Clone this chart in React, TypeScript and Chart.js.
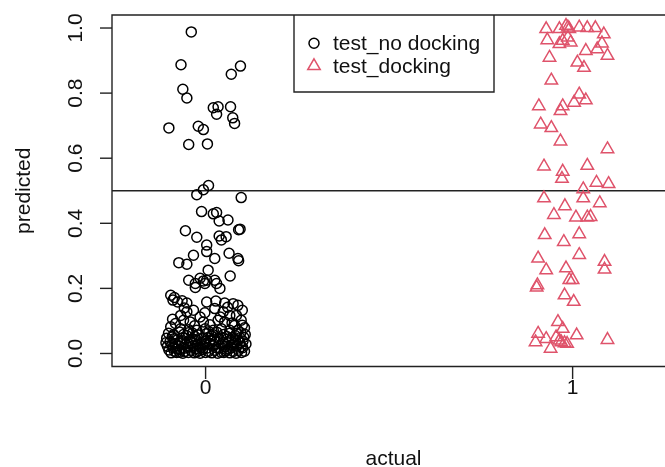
import React, { useEffect, useRef } from 'react';
import { Chart, registerables } from 'chart.js';

Chart.register(...registerables);

// ---- data ----
const seriesNames = ['test_no docking', 'test_docking'];
const xTicks = [0, 1];
const xTickLabels = ['0', '1'];
const yTicks = [0, 0.2, 0.4, 0.6, 0.8, 1.0];
const yTickLabels = ['0.0', '0.2', '0.4', '0.6', '0.8', '1.0'];
const threshold = 0.5;
const xTitle = 'actual';
const yTitle = 'predicted';

// [jittered actual, predicted]
const noDocking: [number, number][] = [
  [-0.039, 0.988], [-0.067, 0.887], [0.095, 0.883], [0.07, 0.858], [-0.062, 0.812], [-0.051, 0.785],
  [0.021, 0.755], [0.034, 0.758], [0.03, 0.735], [0.068, 0.758], [0.074, 0.724], [0.079, 0.707],
  [-0.1, 0.693], [-0.02, 0.698], [-0.006, 0.688],
  [-0.046, 0.642], [0.005, 0.644], [0.008, 0.516], [-0.006, 0.503], [-0.024, 0.488], [0.097, 0.479],
  [-0.011, 0.436], [0.021, 0.429], [0.03, 0.433], [0.037, 0.407], [0.061, 0.41], [-0.055, 0.377],
  [-0.024, 0.357], [0.037, 0.361], [0.056, 0.359], [0.09, 0.38], [0.094, 0.382], [0.043, 0.349],
  [0.003, 0.333], [0.003, 0.313], [0.025, 0.292], [-0.033, 0.302], [-0.073, 0.279], [-0.051, 0.274],
  [0.064, 0.308], [0.088, 0.292], [0.09, 0.285], [0.007, 0.256], [-0.046, 0.225], [-0.028, 0.215],
  [-0.015, 0.231], [-0.006, 0.223], [0.003, 0.225], [-0.002, 0.215], [0.025, 0.225], [0.03, 0.215],
  [0.067, 0.238], [0.039, 0.2], [-0.028, 0.203],
  [-0.095, 0.179], [-0.085, 0.172], [-0.089, 0.164], [-0.076, 0.158], [-0.064, 0.162], [-0.051, 0.155],
  [0.003, 0.158], [0.028, 0.161], [0.052, 0.155], [0.075, 0.153], [0.088, 0.148], [0.1, 0.133],
  [-0.033, 0.133], [-0.051, 0.128], [-0.068, 0.117], [0.025, 0.138], [0.048, 0.128], [0.066, 0.117],
  [0.084, 0.117], [0.097, 0.102], [-0.015, 0.112], [-0.082, 0.092], [-0.06, 0.102], [-0.042, 0.097],
  [-0.006, 0.097], [0.034, 0.102], [0.052, 0.097], [0.079, 0.086], [-0.068, 0.076], [-0.046, 0.073],
  [-0.024, 0.071], [-0.001, 0.076], [0.021, 0.071], [0.043, 0.076], [0.066, 0.071], [0.088, 0.071],
  [0.106, 0.079],
  [-0.095, 0.082], [-0.03, 0.085], [0.012, 0.088], [0.072, 0.094], [0.1, 0.087], [-0.058, 0.14],
  [0.06, 0.142], [-0.002, 0.125], [0.04, 0.112], [-0.09, 0.105],
  [-0.101, 0.062], [-0.087, 0.058], [-0.071, 0.066], [-0.052, 0.055], [-0.036, 0.063], [-0.019, 0.057],
  [0.002, 0.061], [0.016, 0.054], [0.031, 0.065], [0.049, 0.058], [0.066, 0.062], [0.081, 0.055],
  [0.096, 0.064], [0.108, 0.058],
  [-0.106, 0.047], [-0.091, 0.051], [-0.076, 0.043], [-0.061, 0.049], [-0.044, 0.041], [-0.029, 0.052],
  [-0.011, 0.045], [0.006, 0.049], [0.023, 0.042], [0.041, 0.051], [0.057, 0.044], [0.073, 0.048],
  [0.089, 0.041], [0.104, 0.05],
  [-0.097, 0.036], [-0.083, 0.031], [-0.067, 0.038], [-0.054, 0.029], [-0.039, 0.034], [-0.021, 0.028],
  [-0.004, 0.037], [0.011, 0.031], [0.027, 0.035], [0.044, 0.027], [0.061, 0.036], [0.079, 0.03],
  [0.093, 0.034], [0.11, 0.029],
  [-0.104, 0.022], [-0.089, 0.018], [-0.073, 0.024], [-0.058, 0.016], [-0.042, 0.021], [-0.027, 0.015],
  [-0.009, 0.023], [0.005, 0.017], [0.021, 0.024], [0.036, 0.016], [0.053, 0.021], [0.07, 0.017],
  [0.086, 0.023], [0.101, 0.018],
  [-0.1, 0.011], [-0.085, 0.007], [-0.069, 0.012], [-0.056, 0.006], [-0.04, 0.01], [-0.024, 0.005],
  [-0.008, 0.012], [0.008, 0.006], [0.025, 0.01], [0.042, 0.004], [0.058, 0.011], [0.075, 0.006],
  [0.09, 0.01], [0.106, 0.007],
  [-0.094, 0.002], [-0.079, 0.003], [-0.062, 0.001], [-0.047, 0.003], [-0.031, 0.002], [-0.015, 0.001],
  [0.0, 0.003], [0.017, 0.002], [0.033, 0.001], [0.05, 0.003], [0.066, 0.002], [0.083, 0.001],
  [0.098, 0.003],
  [-0.092, 0.027], [-0.078, 0.014], [-0.064, 0.033], [-0.049, 0.019], [-0.033, 0.044], [-0.017, 0.009],
  [-0.002, 0.028], [0.013, 0.041], [0.029, 0.018], [0.047, 0.034], [0.063, 0.014], [0.081, 0.042],
  [0.097, 0.021], [-0.086, 0.045], [-0.047, 0.064], [-0.013, 0.018], [0.019, 0.058], [0.054, 0.008],
  [0.085, 0.062], [0.102, 0.038], [-0.071, 0.004], [-0.035, 0.024], [0.038, 0.043], [0.072, 0.025],
  [-0.108, 0.033], [-0.06, 0.058], [0.009, 0.067], [0.094, 0.048], [-0.024, 0.04], [0.058, 0.052],
];

const docking: [number, number][] = [
  [0.928, 0.997], [0.931, 0.963], [0.964, 0.997], [0.982, 1.007], [0.987, 1.002], [0.991, 0.997],
  [1.018, 1.002], [1.04, 1.0], [1.062, 1.0], [1.085, 0.981], [0.987, 0.971], [0.995, 0.956],
  [0.964, 0.951], [0.973, 0.961], [1.08, 0.953], [1.067, 0.935], [1.036, 0.93], [1.095, 0.915],
  [0.937, 0.909], [1.013, 0.894], [1.031, 0.878], [0.942, 0.839], [1.018, 0.796], [1.004, 0.771],
  [1.036, 0.778], [0.908, 0.76], [0.973, 0.76], [0.967, 0.745], [0.913, 0.704], [0.942, 0.693],
  [0.967, 0.652], [1.095, 0.628], [0.922, 0.575], [0.973, 0.559], [0.971, 0.537], [1.04, 0.577],
  [1.065, 0.525], [1.098, 0.521], [1.029, 0.505], [1.029, 0.477], [0.922, 0.477], [0.979, 0.453],
  [1.074, 0.462], [0.949, 0.426], [1.009, 0.418], [1.04, 0.418], [1.049, 0.42], [0.924, 0.364],
  [1.018, 0.367], [0.976, 0.343],
  [1.018, 0.303], [0.906, 0.292], [0.928, 0.256], [0.982, 0.262], [1.087, 0.282], [1.087, 0.258],
  [0.991, 0.226], [1.0, 0.226], [0.904, 0.21], [0.902, 0.203], [0.978, 0.179], [1.003, 0.159],
  [0.96, 0.097], [0.973, 0.076], [0.906, 0.061], [0.928, 0.045], [0.899, 0.035], [0.955, 0.05],
  [0.964, 0.04], [0.969, 0.035], [0.978, 0.032], [0.985, 0.03], [1.011, 0.056], [0.94, 0.015],
  [1.095, 0.042],
];

const BLACK = '#000000';
const RED = '#DF536B';
const AXIS = '#222222';
const FONT = '21px "Liberation Sans", Arial, sans-serif';

const rPlot = {
  id: 'rBasePlot',
  beforeDatasetsDraw(chart: any) {
    const { ctx, chartArea } = chart;
    const y = chart.scales.y.getPixelForValue(threshold);
    ctx.save();
    ctx.strokeStyle = AXIS;
    ctx.lineWidth = 1.4;
    ctx.beginPath();
    ctx.moveTo(chartArea.left, y);
    ctx.lineTo(chart.width, y);
    ctx.stroke();
    ctx.restore();
  },
  afterDraw(chart: any) {
    const { ctx, chartArea } = chart;
    const xs = chart.scales.x;
    const ys = chart.scales.y;
    const { left, top, bottom } = chartArea;
    ctx.save();
    ctx.strokeStyle = AXIS;
    ctx.lineWidth = 1.4;
    // box (right side is off-canvas)
    ctx.beginPath();
    ctx.moveTo(chart.width + 2, top);
    ctx.lineTo(left, top);
    ctx.lineTo(left, bottom);
    ctx.lineTo(chart.width + 2, bottom);
    ctx.stroke();

    ctx.fillStyle = '#111';
    ctx.font = FONT;
    // y ticks
    yTicks.forEach((v, i) => {
      const py = ys.getPixelForValue(v);
      ctx.beginPath();
      ctx.moveTo(left, py);
      ctx.lineTo(left - 12, py);
      ctx.stroke();
      ctx.save();
      ctx.translate(82, py);
      ctx.rotate(-Math.PI / 2);
      ctx.textAlign = 'center';
      ctx.textBaseline = 'alphabetic';
      ctx.fillText(yTickLabels[i], 0, 0);
      ctx.restore();
    });
    // x ticks
    xTicks.forEach((v, i) => {
      const px = xs.getPixelForValue(v);
      ctx.beginPath();
      ctx.moveTo(px, bottom);
      ctx.lineTo(px, bottom + 12.5);
      ctx.stroke();
      ctx.textAlign = 'center';
      ctx.textBaseline = 'alphabetic';
      ctx.fillText(xTickLabels[i], px, 394);
    });
    // axis titles
    const cx = (left + 675) / 2;
    ctx.textAlign = 'center';
    ctx.fillText(xTitle, cx, 465);
    ctx.save();
    ctx.translate(30, (top + bottom) / 2);
    ctx.rotate(-Math.PI / 2);
    ctx.fillText(yTitle, 0, 0);
    ctx.restore();

    // legend
    const lx = 294, rx = 494, ty = top, by = 92;
    ctx.beginPath();
    ctx.moveTo(lx, ty);
    ctx.lineTo(lx, by);
    ctx.lineTo(rx, by);
    ctx.lineTo(rx, ty);
    ctx.stroke();
    // circle symbol
    ctx.strokeStyle = BLACK;
    ctx.lineWidth = 1.5;
    ctx.beginPath();
    ctx.arc(314, 43.3, 5, 0, Math.PI * 2);
    ctx.stroke();
    // triangle symbol
    ctx.strokeStyle = RED;
    const r = 7.2, tx = 314, tyc = 66;
    ctx.beginPath();
    ctx.moveTo(tx, tyc - r);
    ctx.lineTo(tx + Math.sin((2 * Math.PI) / 3) * r, tyc - Math.cos((2 * Math.PI) / 3) * r);
    ctx.lineTo(tx + Math.sin((4 * Math.PI) / 3) * r, tyc - Math.cos((4 * Math.PI) / 3) * r);
    ctx.closePath();
    ctx.stroke();
    ctx.fillStyle = '#111';
    ctx.textAlign = 'left';
    ctx.fillText(seriesNames[0], 333, 49.5);
    ctx.fillText(seriesNames[1], 333, 72.5);
    ctx.restore();
  },
};

export default function App() {
  const ref = useRef<HTMLCanvasElement>(null);
  useEffect(() => {
    const chart = new Chart(ref.current as HTMLCanvasElement, {
      type: 'scatter',
      data: {
        datasets: [
          {
            label: seriesNames[0],
            data: noDocking.map(([x, y]) => ({ x, y })),
            pointStyle: 'circle',
            pointRadius: 5,
            pointBorderWidth: 1.5,
            pointBorderColor: BLACK,
            pointBackgroundColor: 'rgba(0,0,0,0)',
            showLine: false,
          },
          {
            label: seriesNames[1],
            data: docking.map(([x, y]) => ({ x, y })),
            pointStyle: 'triangle',
            pointRadius: 7.2,
            pointBorderWidth: 1.5,
            pointBorderColor: RED,
            pointBackgroundColor: 'rgba(0,0,0,0)',
            showLine: false,
          },
        ],
      },
      options: {
        responsive: false,
        animation: false,
        events: [],
        layout: { padding: { left: 112, top: 15, right: 0, bottom: 100.5 } },
        scales: {
          x: { type: 'linear', min: -0.255, max: 1.228, display: false },
          y: { type: 'linear', min: -0.04, max: 1.04, display: false },
        },
        plugins: { legend: { display: false }, tooltip: { enabled: false } },
      },
      plugins: [rPlot],
    });
    return () => chart.destroy();
  }, []);
  return (
    <div style={{ position: 'absolute', left: 0, top: 0, width: 665, height: 467, background: '#fff' }}>
      <canvas ref={ref} width={665} height={467} style={{ display: 'block' }} />
    </div>
  );
}
